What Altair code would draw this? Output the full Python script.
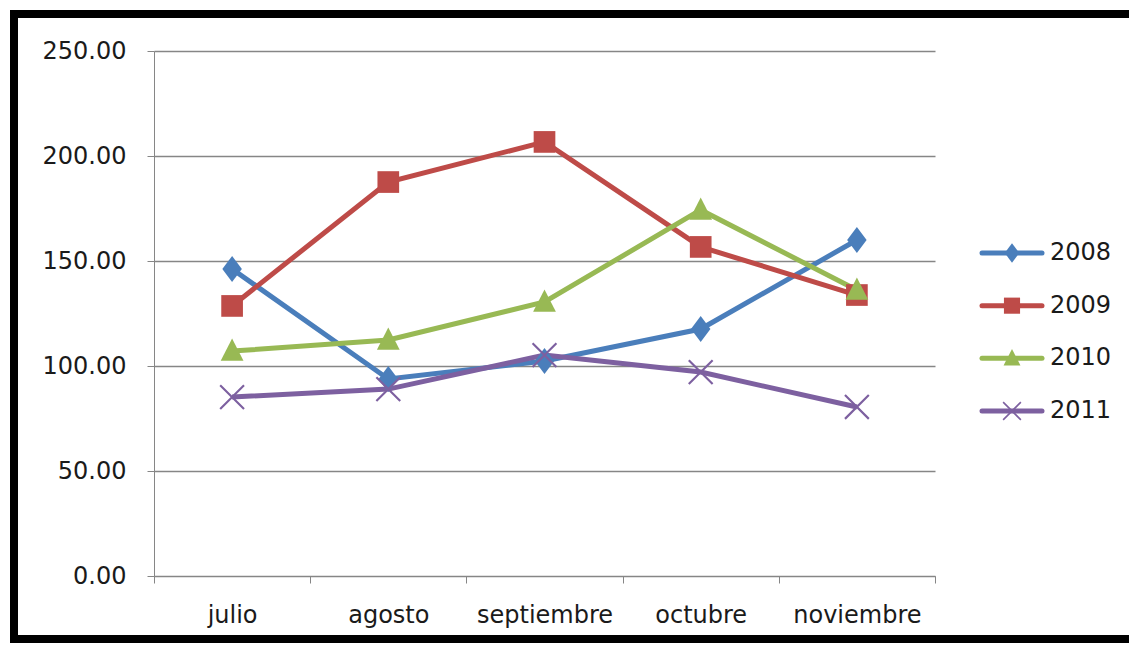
import altair as alt
import pandas as pd

months = ["julio", "agosto", "septiembre", "octubre", "noviembre"]
years = ["2008", "2009", "2010", "2011"]
v2008 = [146.2, 93.8, 102.4, 117.6, 160.0]
v2009 = [128.6, 187.6, 206.7, 156.7, 133.8]
v2010 = [107.1, 112.4, 130.5, 174.3, 136.2]
v2011 = [85.2, 89.0, 105.2, 97.1, 80.5]
y_ticks = [0, 50, 100, 150, 200, 250]

colors = ["#4A7EBB", "#BE4B48", "#98B954", "#7D60A0"]
shapes = [
    "M0,-1.2L0.9,0L0,1.2L-0.9,0Z",
    "M-1,-1H1V1H-1Z",
    "M0,-1.15L1.05,0.9L-1.05,0.9Z",
    "M-1.03,-1.17L1.17,1.03L1.03,1.17L-1.17,-1.03Z"
    "M1.17,-1.03L-1.03,1.17L-1.17,1.03L1.03,-1.17Z",
]

rows = []
for yr, vals in zip(years, [v2008, v2009, v2010, v2011]):
    for m, v in zip(months, vals):
        rows.append({"month": m, "year": yr, "value": v})
df = pd.DataFrame(rows)

FONT = "DejaVu Sans"
GRAY = "#868686"
FS = 24

color = alt.Color("year:N", scale=alt.Scale(domain=years, range=colors), legend=None)
shape = alt.Shape("year:N", scale=alt.Scale(domain=years, range=shapes), legend=None)

x = alt.X(
    "month:N",
    sort=months,
    scale=alt.Scale(type="band", domain=months, paddingInner=0, paddingOuter=0),
    axis=alt.Axis(
        title=None, labelAngle=0, tickBand="extent", tickSize=7,
        domainColor=GRAY, tickColor=GRAY, labelPadding=20,
        labelFont=FONT, labelFontSize=FS, labelColor="#1a1a1a",
    ),
)
y = alt.Y(
    "value:Q",
    scale=alt.Scale(domain=[0, 250], nice=False),
    axis=alt.Axis(
        title=None, values=y_ticks, format=".2f", tickSize=7,
        domainColor=GRAY, tickColor=GRAY, gridColor=GRAY, gridWidth=1.3,
        labelPadding=21, labelFont=FONT, labelFontSize=FS, labelColor="#1a1a1a",
    ),
)

base = alt.Chart(df)
lines = base.mark_line(strokeWidth=5).encode(x=x, y=y, color=color, detail="year:N")
points = base.mark_point(filled=True, size=470, opacity=1).encode(
    x=x, y=y, color=color, shape=shape
)

one = pd.DataFrame({"k": [0]})
top_edge = alt.Chart(one).mark_rule(
    stroke="black", strokeWidth=8, clip=False, strokeCap="butt"
).encode(x=alt.value(-140), x2=alt.value(975), y=alt.value(-37))
bottom_edge = alt.Chart(one).mark_rule(
    stroke="black", strokeWidth=8, clip=False, strokeCap="butt"
).encode(x=alt.value(-140), x2=alt.value(975), y=alt.value(588))
left_edge = alt.Chart(one).mark_rule(
    stroke="black", strokeWidth=8, clip=False, strokeCap="square"
).encode(x=alt.value(-140), y=alt.value(-37), y2=alt.value(588))

main = alt.layer(top_edge, bottom_edge, left_edge, lines, points).properties(
    width=781, height=525
)

leg_df = pd.DataFrame({"year": years})
ly = alt.Y(
    "year:N",
    scale=alt.Scale(type="point", domain=years, range=[202, 360], padding=0),
    axis=None,
)
leg_base = alt.Chart(leg_df)
leg_lines = leg_base.mark_rule(strokeWidth=5, strokeCap="round").encode(
    x=alt.value(7), x2=alt.value(67), y=ly, color=color
)
leg_pts = leg_base.mark_point(filled=True, size=260, opacity=1).encode(
    x=alt.value(37), y=ly, color=color, shape=shape
)
leg_txt = leg_base.mark_text(
    align="left", baseline="middle", font=FONT, fontSize=FS, color="#1a1a1a"
).encode(x=alt.value(75), y=ly, text="year:N")
legend = alt.layer(leg_lines, leg_pts, leg_txt).properties(width=140, height=525)

chart = (
    alt.hconcat(main, legend, spacing=40, bounds="flush")
    .properties(padding=0, background="white")
    .configure_view(stroke=None)
)

chart.save("out.html", embed_options={"renderer": "svg", "actions": False})
